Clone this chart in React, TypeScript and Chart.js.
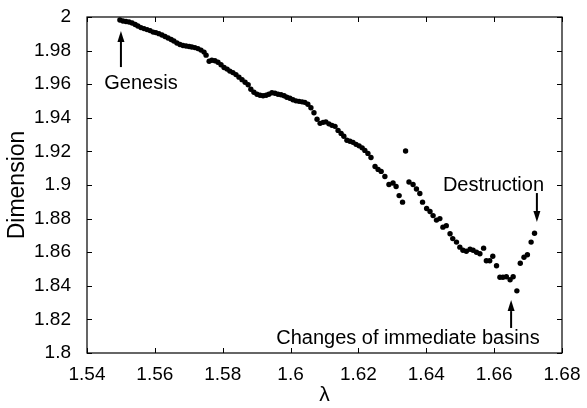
import React, { useEffect, useRef } from "react";
import { Chart, registerables } from "chart.js";

Chart.register(...registerables);

const lambdaValues = [
  1.5497, 1.5506, 1.5515, 1.5524, 1.5533, 1.5542, 1.555, 1.5559, 1.5568, 1.5577,
  1.5586, 1.5595, 1.5603, 1.5612, 1.5621, 1.563, 1.5639, 1.5648, 1.5656, 1.5665,
  1.5674, 1.5683, 1.5692, 1.5701, 1.5709, 1.5718, 1.5727, 1.5736, 1.5745, 1.5751,
  1.576, 1.5768, 1.5777, 1.5786, 1.5795, 1.5804, 1.5813, 1.5821, 1.583, 1.5839,
  1.5848, 1.5857, 1.5866, 1.5875, 1.5883, 1.5892, 1.5901, 1.591, 1.5919, 1.5928,
  1.5936, 1.5945, 1.5954, 1.5963, 1.5972, 1.5981, 1.5989, 1.5998, 1.6007, 1.6016,
  1.6025, 1.6034, 1.6042, 1.6051, 1.606, 1.6069, 1.6078, 1.6087, 1.6096, 1.6104,
  1.6113, 1.6122, 1.6131, 1.614, 1.6149, 1.6157, 1.6166, 1.6175, 1.6184, 1.6193,
  1.6202, 1.6211, 1.6219, 1.6228, 1.6237, 1.6249, 1.6258, 1.6267, 1.6278, 1.629,
  1.6302, 1.6311, 1.632, 1.633, 1.6339, 1.6349, 1.6361, 1.6371, 1.6381, 1.6389,
  1.6401, 1.6411, 1.642, 1.643, 1.644, 1.6449, 1.6459, 1.647, 1.6478, 1.6489,
  1.6499, 1.6508, 1.6518, 1.6529, 1.6538, 1.6548, 1.6558, 1.6569, 1.6577, 1.6587,
  1.6596, 1.6607, 1.6617, 1.6626, 1.6636, 1.6647, 1.6656, 1.6667, 1.6677, 1.6688,
  1.6698, 1.6709, 1.6719,
];

const dimensionValues = [
  1.9982, 1.9976, 1.9973, 1.997, 1.9964, 1.9955, 1.9946, 1.9937, 1.9931, 1.9925,
  1.9919, 1.991, 1.9907, 1.9901, 1.9893, 1.9884, 1.9875, 1.9866, 1.9857, 1.9845,
  1.9836, 1.983, 1.9827, 1.9824, 1.9821, 1.9818, 1.9812, 1.9803, 1.9791, 1.9773,
  1.9737, 1.9743, 1.974, 1.9731, 1.9716, 1.9699, 1.969, 1.9678, 1.9669, 1.9657,
  1.9642, 1.9627, 1.9612, 1.9597, 1.957, 1.9552, 1.954, 1.9534, 1.9531, 1.9534,
  1.954, 1.9549, 1.9546, 1.954, 1.9537, 1.9531, 1.9522, 1.9516, 1.9507, 1.9501,
  1.9498, 1.9495, 1.9492, 1.9481, 1.946, 1.943, 1.9391, 1.9367, 1.9373, 1.9376,
  1.9364, 1.9355, 1.9349, 1.9325, 1.9307, 1.929, 1.9266, 1.926, 1.9254, 1.9242,
  1.9233, 1.9221, 1.9206, 1.9188, 1.9164, 1.911, 1.9093, 1.9081, 1.9051, 1.9003,
  1.9012, 1.8991, 1.8937, 1.8898, 1.9202, 1.9018, 1.9003, 1.8976, 1.8949, 1.8898,
  1.886, 1.8842, 1.8818, 1.8791, 1.88, 1.8749, 1.8758, 1.871, 1.8681, 1.866,
  1.863, 1.8612, 1.8606, 1.8618, 1.8612, 1.86, 1.8591, 1.8624, 1.8549, 1.8549,
  1.8576, 1.8519, 1.8451, 1.8451, 1.8454, 1.8436, 1.8454, 1.837, 1.8534, 1.857,
  1.8585, 1.866, 1.8713,
];

const xTickValues = [1.54, 1.56, 1.58, 1.6, 1.62, 1.64, 1.66, 1.68];
const yTickValues = [1.8, 1.82, 1.84, 1.86, 1.88, 1.9, 1.92, 1.94, 1.96, 1.98, 2];

const xTitle = "λ";
const yTitle = "Dimension";

// annotations: label text, label anchor (data coords), arrow x, arrow tail y, arrow head y
const annotationTexts = ["Genesis", "Destruction", "Changes of immediate basins"];
const annotationTextX = [1.5559, 1.6598, 1.6346];
const annotationTextY = [1.9607, 1.9, 1.8089];
const arrowX = [1.55, 1.6726, 1.665];
const arrowTailY = [1.9702, 1.8952, 1.8149];
const arrowHeadY = [1.9917, 1.878, 1.8315];

const FONT = "'Liberation Sans', Arial, Helvetica, sans-serif";

const fmt = (v: number) => String(parseFloat(v.toFixed(2)));

const framePlugin = {
  id: "frameAndNotes",
  afterDraw(chart: any) {
    const { ctx, chartArea, scales } = chart;
    const { left, right, top, bottom } = chartArea;
    ctx.save();
    ctx.strokeStyle = "#000";
    ctx.lineWidth = 1.2;
    ctx.strokeRect(left, top, right - left, bottom - top);
    const tl = 5;
    ctx.lineWidth = 1;
    ctx.beginPath();
    xTickValues.forEach((v) => {
      const x = Math.round(scales.x.getPixelForValue(v)) + 0.5;
      ctx.moveTo(x, bottom);
      ctx.lineTo(x, bottom - tl);
      ctx.moveTo(x, top);
      ctx.lineTo(x, top + tl);
    });
    yTickValues.forEach((v) => {
      const y = Math.round(scales.y.getPixelForValue(v)) + 0.5;
      ctx.moveTo(left, y);
      ctx.lineTo(left + tl, y);
      ctx.moveTo(right, y);
      ctx.lineTo(right - tl, y);
    });
    ctx.stroke();

    // annotations
    ctx.fillStyle = "#000";
    ctx.font = `20px ${FONT}`;
    ctx.textAlign = "center";
    ctx.textBaseline = "middle";
    annotationTexts.forEach((t, i) => {
      ctx.fillText(
        t,
        scales.x.getPixelForValue(annotationTextX[i]),
        scales.y.getPixelForValue(annotationTextY[i])
      );
      const ax = scales.x.getPixelForValue(arrowX[i]);
      const y0 = scales.y.getPixelForValue(arrowTailY[i]);
      const y1 = scales.y.getPixelForValue(arrowHeadY[i]);
      const dir = y1 < y0 ? -1 : 1;
      const headLen = 11;
      ctx.lineWidth = 2;
      ctx.beginPath();
      ctx.moveTo(ax, y0);
      ctx.lineTo(ax, y1 - dir * headLen);
      ctx.stroke();
      ctx.beginPath();
      ctx.moveTo(ax, y1);
      ctx.lineTo(ax - 3.5, y1 - dir * headLen);
      ctx.lineTo(ax + 3.5, y1 - dir * headLen);
      ctx.closePath();
      ctx.fill();
    });
    ctx.restore();
  },
};

export default function App() {
  const ref = useRef<HTMLCanvasElement | null>(null);
  useEffect(() => {
    if (!ref.current) return;
    const points = lambdaValues.map((x, i) => ({ x, y: dimensionValues[i] }));
    const chart = new Chart(ref.current, {
      type: "scatter",
      data: {
        datasets: [
          {
            data: points,
            backgroundColor: "#000",
            borderColor: "#000",
            borderWidth: 0,
            pointRadius: 2.7,
            pointHoverRadius: 2.7,
          },
        ],
      },
      options: {
        responsive: false,
        animation: false,
        events: [],
        layout: { padding: { top: 17, right: 25, left: 0, bottom: 0 } },
        plugins: { legend: { display: false }, tooltip: { enabled: false } },
        scales: {
          x: {
            type: "linear",
            min: 1.54,
            max: 1.68,
            afterBuildTicks: (s: any) => {
              s.ticks = xTickValues.map((v) => ({ value: v }));
            },
            afterFit: (s: any) => {
              s.height = 55;
              s.paddingLeft = 0;
              s.paddingRight = 0;
            },
            grid: { display: false, drawTicks: false },
            border: { display: false },
            ticks: {
              color: "#000",
              padding: 10,
              maxRotation: 0,
              autoSkip: false,
              font: { family: FONT, size: 19 },
              callback: (v: any) => fmt(Number(v)),
            },
            title: {
              display: true,
              text: xTitle,
              color: "#000",
              font: { family: FONT, size: 21 },
              padding: { top: 0, bottom: 0 },
            },
          },
          y: {
            type: "linear",
            min: 1.8,
            max: 2,
            afterBuildTicks: (s: any) => {
              s.ticks = yTickValues.map((v) => ({ value: v }));
            },
            afterFit: (s: any) => {
              s.width = 87;
              s.paddingTop = 0;
              s.paddingBottom = 0;
            },
            grid: { display: false, drawTicks: false },
            border: { display: false },
            ticks: {
              color: "#000",
              padding: 16,
              autoSkip: false,
              font: { family: FONT, size: 19 },
              callback: (v: any) => fmt(Number(v)),
            },
            title: {
              display: true,
              text: yTitle,
              color: "#000",
              font: { family: FONT, size: 23 },
              padding: { top: 4, bottom: 0 },
            },
          },
        },
      },
      plugins: [framePlugin],
    });
    return () => chart.destroy();
  }, []);
  return (
    <div style={{ position: "absolute", left: 0, top: 0, width: 587, height: 408, background: "#fff" }}>
      <canvas ref={ref} width={587} height={408} style={{ width: 587, height: 408 }} />
    </div>
  );
}
